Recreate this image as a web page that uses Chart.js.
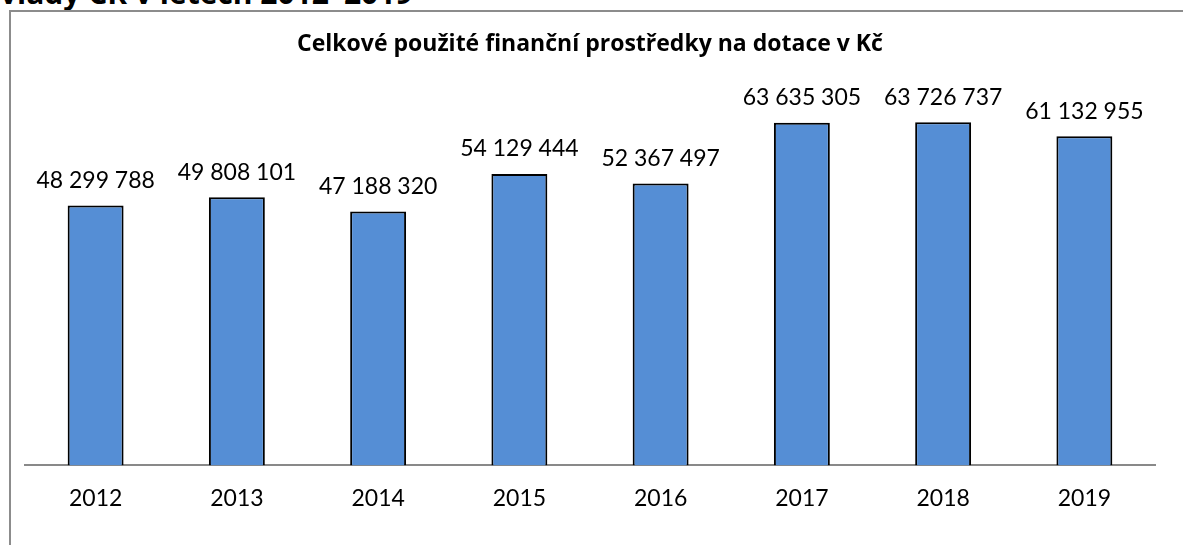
<!DOCTYPE html>
<html>
<head>
<meta charset="utf-8">
<script src="https://cdn.jsdelivr.net/npm/chart.js@4/dist/chart.umd.min.js"></script>
<style>
  html, body { margin: 0; padding: 0; background: #fff; overflow: hidden; width: 1183px; height: 545px; }
  #heading { position: absolute; left: 0px; top: -22px; font-family: "Open Sans", sans-serif; font-weight: bold; font-size: 30px; line-height: 1; white-space: nowrap; color: #000; }
  #box { position: absolute; left: 9px; top: 10px; width: 1180px; height: 540px; border-left: 2px solid #8c8c8c; border-top: 2px solid #8c8c8c; }
  #wrap { position: absolute; left: 0; top: 0; width: 1172px; height: 533px; }
</style>
</head>
<body>
<div id="heading">vlády ČR v letech 2012–2019</div>
<div id="box"><div id="wrap"><canvas id="c"></canvas></div></div>
<script>
const chartTitle = 'Celkové použité finanční prostředky na dotace v Kč';
const categories = ['2012', '2013', '2014', '2015', '2016', '2017', '2018', '2019'];
const values = [48299788, 49808101, 47188320, 54129444, 52367497, 63635305, 63726737, 61132955];
const yMin = 0;
const yMax = 70000000;

function fmt(v) {
  return String(v).replace(/\B(?=(\d{3})+(?!\d))/g, ' ');
}

const valueLabels = {
  id: 'valueLabels',
  afterDatasetsDraw(chart) {
    const ctx = chart.ctx;
    const meta = chart.getDatasetMeta(0);
    ctx.save();
    ctx.font = '23px Lato';
    ctx.fillStyle = '#000';
    ctx.textAlign = 'center';
    ctx.textBaseline = 'middle';
    meta.data.forEach((bar, i) => {
      ctx.fillText(fmt(chart.data.datasets[0].data[i]), bar.x, bar.y - 25);
    });
    ctx.restore();
  }
};

new Chart(document.getElementById('c'), {
  type: 'bar',
  data: {
    labels: categories,
    datasets: [{
      data: values,
      backgroundColor: '#558ed5',
      borderColor: '#000000',
      borderWidth: 2,
      barPercentage: 0.396,
      categoryPercentage: 1.0
    }]
  },
  options: {
    responsive: true,
    maintainAspectRatio: false,
    animation: false,
    layout: { padding: { left: 14, right: 28, top: 0, bottom: 14 } },
    plugins: {
      legend: { display: false },
      tooltip: { enabled: false },
      title: {
        display: true,
        text: chartTitle,
        color: '#000',
        font: { family: 'Open Sans', size: 23, weight: 'bold', lineHeight: 1.2 },
        padding: { top: 19, bottom: 30 }
      }
    },
    scales: {
      x: {
        grid: { display: false, drawTicks: false },
        border: { display: true, color: '#898989', width: 2 },
        ticks: { color: '#000', font: { family: 'Lato', size: 23 }, padding: 19 }
      },
      y: {
        display: false,
        min: yMin,
        max: yMax
      }
    }
  },
  plugins: [valueLabels]
});
</script>
</body>
</html>
